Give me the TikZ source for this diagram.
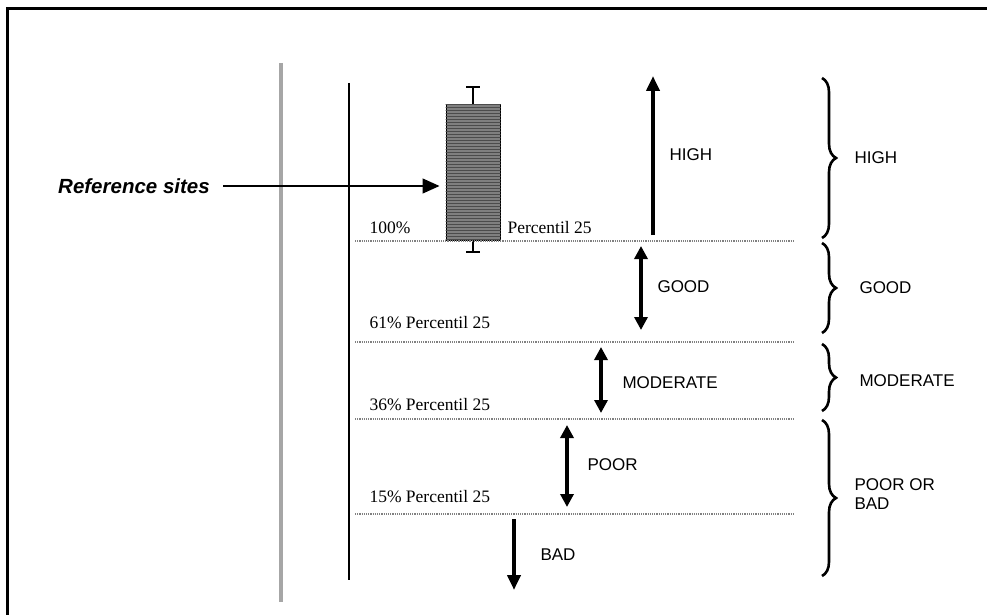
\documentclass[tikz,border=0pt]{standalone}
\usepackage{fontspec}
\setmainfont{Liberation Serif}
\newfontfamily\arialfont{Liberation Sans}
\usetikzlibrary{arrows.meta,decorations.pathreplacing,patterns}

\tikzset{
  level/.style={anchor=west,font=\arialfont\fontsize{17}{19}\selectfont},
  pct/.style={anchor=base west,font=\fontsize{17.5}{19}\selectfont},
  sep/.style={gray,densely dotted,line width=1.2pt},
  bigarrow/.style={line width=4pt,-{Triangle[length=15pt,width=13pt]}},
  dblarrow/.style={line width=4pt,{Triangle[length=13pt,width=13pt]}-{Triangle[length=13pt,width=13pt]}},
  band/.style={line width=2.6pt,decorate,decoration={brace,amplitude=14pt}}
}

\begin{document}
\begin{tikzpicture}[x=1pt,y=-1pt]
    \useasboundingbox (0,0) rectangle (987,615);
    % frame
    \draw[line width=3pt] (7,615) -- (7,9) -- (987,9);
    % axes
    \draw[gray!70,line width=4pt] (281,63) -- (281,602);
    \draw[line width=2.5pt] (349,83) -- (349,580);

    % reference box
    \draw[line width=1.4pt] (473,87) -- (473,252);
    \draw[line width=1.4pt] (466,87) -- (480,87);
    \draw[line width=1.4pt] (466,252) -- (480,252);
    \node[draw,fill=black!50,line width=1pt,minimum width=54pt,minimum height=135pt,inner sep=0pt] (box) at (473,172.5) {};
    \fill[pattern=horizontal lines,pattern color=black!70] (box.south west) rectangle (box.north east);
    \node[font=\arialfont\bfseries\itshape\fontsize{20.5}{22}\selectfont] (ref) at (134,186) {Reference sites};
    \draw[line width=1.4pt,-{Triangle[length=17pt,width=15pt]},shorten >=6pt,shorten <=10pt] (ref) -- (ref -| box.west);

    % class limits
    \foreach \y in {241,342,419,514}
        \draw[sep] (355,\y) -- (793,\y);
    \node[pct] (p100) at (366,233) {100\%};
    \node[pct] (p25) at (504,233) {Percentil 25};
    \node[pct] (p61) at (366,328) {61\% Percentil 25};
    \node[pct] (p36) at (366,410) {36\% Percentil 25};
    \node[pct] (p15) at (366,502) {15\% Percentil 25};

    % level arrows
    \draw[bigarrow] (653,235) -- (653,76);
    \node[level] (high) at (666,155) {HIGH};
    \draw[dblarrow] (641,246) -- (641,330);
    \node[level] (good) at (654,287) {GOOD};
    \draw[dblarrow] (601,347) -- (601,413);
    \node[level] (mod) at (619,383) {MODERATE};
    \draw[dblarrow] (567,425) -- (567,507);
    \node[level] (poor) at (584,465) {POOR};
    \draw[bigarrow] (514,519) -- (514,590);
    \node[level] (bad) at (537,555) {BAD};

    % classes
    \draw[band] (822,78) -- (822,238);
    \node[level] (chigh) at (851,158) {HIGH};
    \draw[band] (822,243) -- (822,333);
    \node[level] (cgood) at (856,288) {GOOD};
    \draw[band] (822,344) -- (822,411);
    \node[level] (cmod) at (856,381) {MODERATE};
    \draw[band] (822,420) -- (822,576);
    \node[level,align=left] (cpoor) at (851,494) {POOR OR\\BAD};
\end{tikzpicture}
\end{document}
